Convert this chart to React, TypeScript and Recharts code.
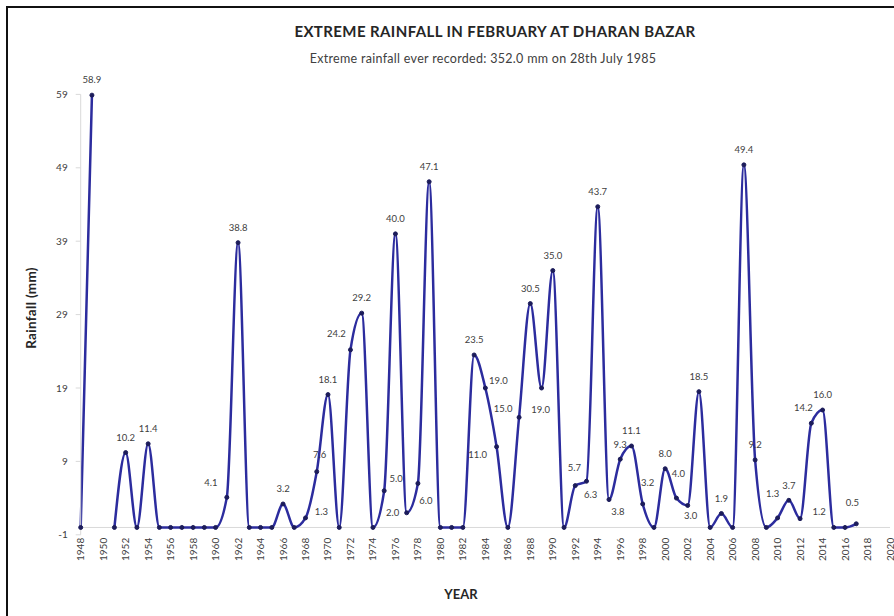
import { LineChart, Line, XAxis, YAxis, ReferenceLine, LabelList } from "recharts";

// Feb extreme rainfall, Dharan Bazar (mm); 1950 missing
const YEARS = [
  1948, 1949, 1950, 1951, 1952, 1953, 1954, 1955, 1956, 1957, 1958, 1959,
  1960, 1961, 1962, 1963, 1964, 1965, 1966, 1967, 1968, 1969, 1970, 1971,
  1972, 1973, 1974, 1975, 1976, 1977, 1978, 1979, 1980, 1981, 1982, 1983,
  1984, 1985, 1986, 1987, 1988, 1989, 1990, 1991, 1992, 1993, 1994, 1995,
  1996, 1997, 1998, 1999, 2000, 2001, 2002, 2003, 2004, 2005, 2006, 2007,
  2008, 2009, 2010, 2011, 2012, 2013, 2014, 2015, 2016, 2017,
];
const RAINFALL: (number | null)[] = [
  0, 58.9, null, 0, 10.2, 0, 11.4, 0, 0, 0, 0, 0,
  0, 4.1, 38.8, 0, 0, 0, 3.2, 0, 1.3, 7.6, 18.1, 0,
  24.2, 29.2, 0, 5.0, 40.0, 2.0, 6.0, 47.1, 0, 0, 0, 23.5,
  19.0, 11.0, 0, 15.0, 30.5, 19.0, 35.0, 0, 5.7, 6.3, 43.7, 3.8,
  9.3, 11.1, 3.2, 0, 8.0, 4.0, 3.0, 18.5, 0, 1.9, 0, 49.4,
  9.2, 0, 1.3, 3.7, 1.2, 14.2, 16.0, 0, 0, 0.5,
];
const X_TICKS = [
  1948, 1950, 1952, 1954, 1956, 1958, 1960, 1962, 1964, 1966, 1968, 1970,
  1972, 1974, 1976, 1978, 1980, 1982, 1984, 1986, 1988, 1990, 1992, 1994,
  1996, 1998, 2000, 2002, 2004, 2006, 2008, 2010, 2012, 2014, 2016, 2018, 2020,
];
const Y_TICKS = [-1, 9, 19, 29, 39, 49, 59];

const data = YEARS.map((year, i) => ({ year, rain: RAINFALL[i] }));

// label nudges where they don't sit straight above the point
const LABEL_NUDGE: Record<number, [number, number]> = {
  1961: [-16, -15],
  1968: [16, -6],
  1969: [3, -17],
  1972: [-14, -16],
  1975: [12, -12],
  1977: [-14, 0],
  1978: [8, 17],
  1984: [13, -7],
  1985: [-19, 8],
  1987: [-16, -9],
  1989: [-1, 22],
  1992: [-1, -18],
  1993: [4, 13],
  1995: [9, 12],
  1998: [5, -21],
  2001: [2, -24],
  2002: [3, 10],
  2010: [-5, -24],
  2012: [19, -7],
  2013: [-8, -16],
  2017: [-4, -21],
};

const FONT = "Lato, 'Open Sans', sans-serif";
const TEXT = "#404040";
const BLUE = "#2c2c9e";

const YearTick = ({ x, y, payload }: any) => (
  <text
    transform={`translate(${x},${y}) rotate(-90)`}
    textAnchor="end"
    dy="0.35em"
    fontSize={10}
    fontFamily={FONT}
    fill={TEXT}
  >
    {payload.value}
  </text>
);

const ValueLabel = ({ x, y, value, index }: any) => {
  if (value == null || value === 0) return null;
  const year = YEARS[index];
  const [dx, dy] = LABEL_NUDGE[year] ?? [0, -15];
  return (
    <text
      x={x + dx}
      y={y + dy}
      dy="0.35em"
      textAnchor="middle"
      fontSize={9.5}
      fontFamily={FONT}
      fill={TEXT}
    >
      {value.toFixed(1)}
    </text>
  );
};

export default function App() {
  return (
    <div
      style={{
        position: "relative",
        width: 894,
        height: 616,
        background: "#fff",
        fontFamily: FONT,
        overflow: "hidden",
      }}
    >
      <style>{`body{margin:0}`}</style>
      <div style={{ position: "absolute", left: 6, top: 6, right: 0, height: 2, background: "#111" }} />
      <div style={{ position: "absolute", left: 6, top: 6, width: 2, bottom: 0, background: "#111" }} />
      <div
        style={{
          position: "absolute",
          left: 0,
          width: 990,
          top: 22,
          textAlign: "center",
          fontSize: 15,
          letterSpacing: 0.4,
          fontWeight: 700,
          color: "#262626",
        }}
      >
        EXTREME RAINFALL IN FEBRUARY AT DHARAN BAZAR
      </div>
      <div
        style={{
          position: "absolute",
          left: 0,
          width: 966,
          top: 51,
          textAlign: "center",
          fontSize: 12.5,
          letterSpacing: 0.3,
          color: TEXT,
        }}
      >
        Extreme rainfall ever recorded: 352.0 mm on 28th July 1985
      </div>
      <div
        style={{
          position: "absolute",
          left: 31,
          top: 308,
          transform: "translate(-50%, -50%) rotate(-90deg)",
          whiteSpace: "nowrap",
          fontSize: 13.5,
          letterSpacing: 0.3,
          fontWeight: 700,
          color: "#262626",
        }}
      >
        Rainfall (mm)
      </div>
      <div
        style={{
          position: "absolute",
          left: 461,
          top: 594,
          transform: "translate(-50%, -50%)",
          fontSize: 13,
          fontWeight: 700,
          color: "#262626",
        }}
      >
        YEAR
      </div>
      <div style={{ position: "absolute", left: 0, top: 0 }}>
        <LineChart
          width={894}
          height={616}
          data={data}
          margin={{ top: 94.4, right: 4, bottom: 51.2, left: 30.7 }}
        >
          <XAxis
            dataKey="year"
            type="number"
            domain={[1948, 2020]}
            ticks={X_TICKS}
            interval={0}
            height={30}
            axisLine={false}
            tickLine={false}
            tickSize={0}
            tickMargin={3}
            tick={<YearTick />}
          />
          <YAxis
            domain={[-1, 59]}
            ticks={Y_TICKS}
            interval={0}
            width={50}
            axisLine={{ stroke: "#d9d9d9" }}
            tickLine={{ stroke: "#d9d9d9" }}
            tickSize={5}
            tickMargin={8}
            tick={{ fontSize: 10, fill: TEXT, fontFamily: FONT }}
          />
          <ReferenceLine y={0} stroke="#d9d9d9" strokeWidth={1} />
          <Line
            dataKey="rain"
            type="monotone"
            stroke={BLUE}
            strokeWidth={2.5}
            dot={{ r: 2, fill: "#1c1c5a", stroke: "#1c1c5a", strokeWidth: 1 }}
            activeDot={false}
            connectNulls={false}
            isAnimationActive={false}
          >
            <LabelList dataKey="rain" content={<ValueLabel />} />
          </Line>
        </LineChart>
      </div>
    </div>
  );
}
